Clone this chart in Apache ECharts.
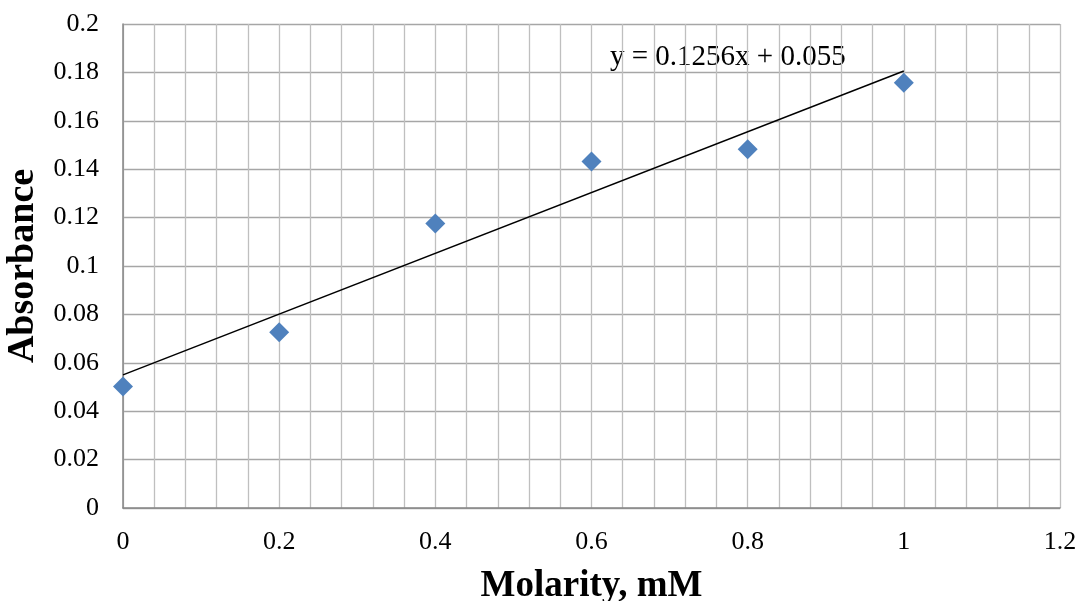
<!DOCTYPE html>
<html>
<head>
<meta charset="utf-8">
<script src="https://cdn.jsdelivr.net/npm/echarts@6/dist/echarts.min.js"></script>
<style>html,body{margin:0;padding:0;background:#fff}#c{width:1078px;height:601px}</style>
</head>
<body>
<div id="c"></div>
<script>
var molarity = [0, 0.2, 0.4, 0.6, 0.8, 1.0];
var absorbance = [0.0502, 0.0726, 0.1176, 0.1432, 0.1482, 0.1757];
var trendX = [0, 1.0];
var trendY = [0.055, 0.1806];
var equationText = 'y = 0.1256x + 0.055';
var xTitle = 'Molarity, mM';
var yTitle = 'Absorbance';

var chart = echarts.init(document.getElementById('c'));
var font = '"Liberation Serif", "Times New Roman", serif';
chart.setOption({
  animation: false,
  backgroundColor: '#fff',
  grid: {left: 123, right: 18, top: 24, bottom: 93, containLabel: false, outerBoundsMode: 'none'},
  xAxis: {
    type: 'value', min: 0, max: 1.2, interval: 0.2,
    name: xTitle, nameLocation: 'middle', nameGap: 60,
    nameTextStyle: {fontFamily: font, fontSize: 37, fontWeight: 'bold', color: '#000'},
    axisLine: {show: true, onZero: false, lineStyle: {color: '#868686', width: 1.5}},
    axisTick: {show: false},
    minorTick: {show: false, splitNumber: 5},
    axisLabel: {fontFamily: font, fontSize: 26, color: '#000', margin: 21},
    splitLine: {show: true, lineStyle: {color: '#bfbfbf', width: 1.3}},
    minorSplitLine: {show: true, lineStyle: {color: '#bfbfbf', width: 1.3}}
  },
  yAxis: {
    type: 'value', min: 0, max: 0.2, interval: 0.02,
    name: yTitle, nameLocation: 'middle', nameGap: 78,
    nameTextStyle: {fontFamily: font, fontSize: 38, fontWeight: 'bold', color: '#000'},
    axisLine: {show: true, onZero: false, lineStyle: {color: '#868686', width: 1.5}},
    axisTick: {show: false},
    axisLabel: {fontFamily: font, fontSize: 26, color: '#000', margin: 24},
    splitLine: {show: true, lineStyle: {color: '#a6a6a6', width: 1.3}}
  },
  graphic: [{
    type: 'text', left: 610, top: 43,
    style: {text: equationText, fontFamily: font, fontSize: 29, fill: '#000'}
  }],
  series: [{
    type: 'line',
    data: trendX.map(function (x, i) { return [x, trendY[i]]; }),
    showSymbol: false, symbol: 'none',
    lineStyle: {color: '#000', width: 1.5},
    z: 3
  }, {
    type: 'scatter',
    data: molarity.map(function (x, i) { return [x, absorbance[i]]; }),
    symbol: 'diamond', symbolSize: [20, 20],
    itemStyle: {color: '#4f81bd', opacity: 1},
    z: 4
  }]
});
</script>
</body>
</html>
